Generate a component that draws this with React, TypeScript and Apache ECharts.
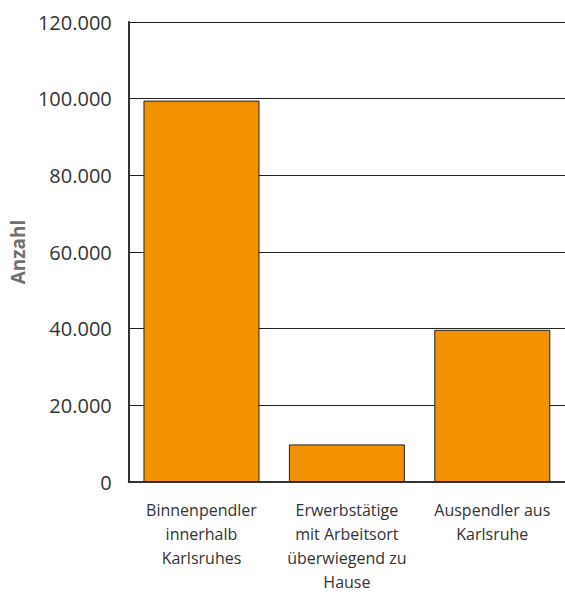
import React, { useEffect, useRef } from "react";
import * as echarts from "echarts";

const categories = [
  "Binnenpendler\ninnerhalb\nKarlsruhes",
  "Erwerbstätige\nmit Arbeitsort\nüberwiegend zu\nHause",
  "Auspendler aus\nKarlsruhe",
];
const values = [99500, 9800, 39700];
const yAxisName = "Anzahl";

function fmt(v: number): string {
  return String(v).replace(/\B(?=(\d{3})+(?!\d))/g, ".");
}

export default function App() {
  const ref = useRef<HTMLDivElement>(null);
  useEffect(() => {
    if (!ref.current) return;
    const chart = echarts.init(ref.current, null, { renderer: "svg" });
    chart.setOption({
      animation: false,
      backgroundColor: "#ffffff",
      grid: { left: 125, top: 22, right: 0, bottom: 105, containLabel: false },
      xAxis: {
        type: "category",
        data: categories,
        axisLine: { lineStyle: { color: "#333333", width: 2 } },
        axisTick: { show: false },
        axisLabel: {
          color: "#333333",
          fontFamily: "Open Sans",
          fontSize: 16,
          lineHeight: 24,
          margin: 16,
          interval: 0,
        },
      },
      yAxis: {
        type: "value",
        min: 0,
        max: 120000,
        interval: 20000,
        name: yAxisName,
        nameLocation: "middle",
        nameGap: 89,
        nameTextStyle: {
          color: "#707070",
          fontFamily: "Open Sans",
          fontWeight: "bold",
          fontSize: 19,
        },
        axisLine: { show: true, lineStyle: { color: "#333333", width: 2 } },
        axisTick: { show: false },
        splitLine: { lineStyle: { color: "#222222", width: 1 } },
        axisLabel: {
          color: "#333333",
          fontFamily: "Open Sans",
          fontSize: 20,
          margin: 17,
          formatter: (v: number) => fmt(v),
        },
      },
      series: [
        {
          type: "bar",
          data: values,
          barWidth: 116,
          itemStyle: { color: "#F39200", borderColor: "#222222", borderWidth: 1 },
        },
      ],
    });
    return () => chart.dispose();
  }, []);
  return (
    <div
      ref={ref}
      style={{ position: "absolute", left: 0, top: 0, width: 565, height: 594 }}
    />
  );
}
